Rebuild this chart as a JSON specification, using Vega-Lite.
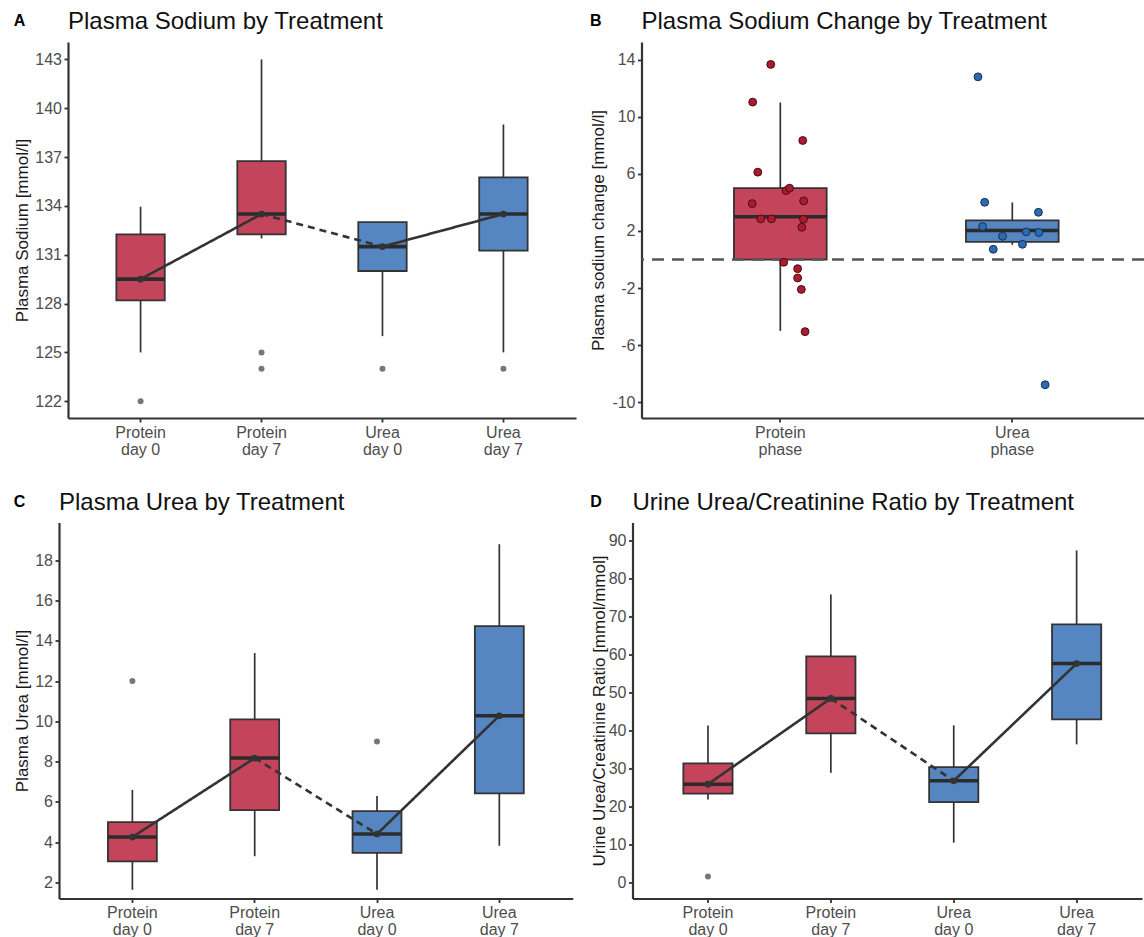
{
  "$schema": "https://vega.github.io/schema/vega-lite/v6.json",
  "padding": {"left": 13, "top": 10, "right": 0, "bottom": 0},
  "background": "white",
  "config": {
    "font": "Liberation Sans",
    "view": {"stroke": null},
    "axis": {"grid": false, "domainColor": "#333333", "domainWidth": 2.2, "tickColor": "#333333", "tickWidth": 1.8, "tickSize": 4, "labelColor": "#4d4d4d", "labelFontSize": 16, "labelFont": "Liberation Sans", "titleFont": "Liberation Sans", "titleFontSize": 17, "titleFontWeight": "normal", "titleColor": "#1a1a1a", "labelPadding": 2.5, "titlePadding": 3, "labelOverlap": false},
    "title": {"font": "Liberation Sans", "fontSize": 24, "fontWeight": "normal", "color": "#111111", "anchor": "start", "frame": "group", "offset": 8}
  },
  "datasets": {
    "boxA": [
      {"group": "Protein day 0", "phase": "Protein", "lo": 125.0, "q1": 128.2, "med": 129.5, "q3": 132.25, "hi": 133.95},
      {"group": "Protein day 7", "phase": "Protein", "lo": 132.0, "q1": 132.25, "med": 133.5, "q3": 136.75, "hi": 143.0},
      {"group": "Urea day 0", "phase": "Urea", "lo": 126.0, "q1": 130.0, "med": 131.5, "q3": 133.0, "hi": 133.0},
      {"group": "Urea day 7", "phase": "Urea", "lo": 125.0, "q1": 131.25, "med": 133.5, "q3": 135.75, "hi": 139.0}
    ],
    "outA": [
      {"group": "Protein day 0", "value": 122},
      {"group": "Protein day 7", "value": 125},
      {"group": "Protein day 7", "value": 124},
      {"group": "Urea day 0", "value": 124},
      {"group": "Urea day 7", "value": 124}
    ],
    "lineA": [
      {"group": "Protein day 0", "med": 129.5, "seg": "1", "link": "within"},
      {"group": "Protein day 7", "med": 133.5, "seg": "1", "link": "within"},
      {"group": "Protein day 7", "med": 133.5, "seg": "2", "link": "between"},
      {"group": "Urea day 0", "med": 131.5, "seg": "2", "link": "between"},
      {"group": "Urea day 0", "med": 131.5, "seg": "3", "link": "within"},
      {"group": "Urea day 7", "med": 133.5, "seg": "3", "link": "within"}
    ],
    "boxB": [
      {"group": "Protein phase", "phase": "Protein", "lo": -5.0, "q1": 0.0, "med": 3.0, "q3": 5.0, "hi": 11.0},
      {"group": "Urea phase", "phase": "Urea", "lo": 1.03, "q1": 1.24, "med": 2.03, "q3": 2.75, "hi": 4.0}
    ],
    "ptsB": [
      {"group": "Protein phase", "phase": "Protein", "value": 13.67, "jitter": -0.041},
      {"group": "Protein phase", "phase": "Protein", "value": 11.03, "jitter": -0.119},
      {"group": "Protein phase", "phase": "Protein", "value": 8.34, "jitter": 0.097},
      {"group": "Protein phase", "phase": "Protein", "value": 6.12, "jitter": -0.097},
      {"group": "Protein phase", "phase": "Protein", "value": 4.83, "jitter": 0.025},
      {"group": "Protein phase", "phase": "Protein", "value": 5.0, "jitter": 0.04},
      {"group": "Protein phase", "phase": "Protein", "value": 3.92, "jitter": -0.121},
      {"group": "Protein phase", "phase": "Protein", "value": 4.11, "jitter": 0.101},
      {"group": "Protein phase", "phase": "Protein", "value": 2.85, "jitter": -0.084},
      {"group": "Protein phase", "phase": "Protein", "value": 2.85, "jitter": -0.038},
      {"group": "Protein phase", "phase": "Protein", "value": 2.82, "jitter": 0.1},
      {"group": "Protein phase", "phase": "Protein", "value": 2.26, "jitter": 0.093},
      {"group": "Protein phase", "phase": "Protein", "value": -0.19, "jitter": 0.015},
      {"group": "Protein phase", "phase": "Protein", "value": -0.64, "jitter": 0.075},
      {"group": "Protein phase", "phase": "Protein", "value": -1.29, "jitter": 0.075},
      {"group": "Protein phase", "phase": "Protein", "value": -2.09, "jitter": 0.091},
      {"group": "Protein phase", "phase": "Protein", "value": -5.05, "jitter": 0.107},
      {"group": "Urea phase", "phase": "Urea", "value": 12.8, "jitter": -0.148},
      {"group": "Urea phase", "phase": "Urea", "value": 4.01, "jitter": -0.119},
      {"group": "Urea phase", "phase": "Urea", "value": 3.31, "jitter": 0.113},
      {"group": "Urea phase", "phase": "Urea", "value": 2.31, "jitter": -0.128},
      {"group": "Urea phase", "phase": "Urea", "value": 1.94, "jitter": 0.06},
      {"group": "Urea phase", "phase": "Urea", "value": 1.9, "jitter": 0.115},
      {"group": "Urea phase", "phase": "Urea", "value": 1.63, "jitter": -0.042},
      {"group": "Urea phase", "phase": "Urea", "value": 1.07, "jitter": 0.044},
      {"group": "Urea phase", "phase": "Urea", "value": 0.72, "jitter": -0.082},
      {"group": "Urea phase", "phase": "Urea", "value": -8.77, "jitter": 0.142}
    ],
    "boxC": [
      {"group": "Protein day 0", "phase": "Protein", "lo": 1.64, "q1": 3.05, "med": 4.26, "q3": 5.0, "hi": 6.6},
      {"group": "Protein day 7", "phase": "Protein", "lo": 3.31, "q1": 5.6, "med": 8.18, "q3": 10.1, "hi": 13.39},
      {"group": "Urea day 0", "phase": "Urea", "lo": 1.64, "q1": 3.47, "med": 4.41, "q3": 5.55, "hi": 6.3},
      {"group": "Urea day 7", "phase": "Urea", "lo": 3.83, "q1": 6.43, "med": 10.28, "q3": 14.73, "hi": 18.79}
    ],
    "outC": [
      {"group": "Protein day 0", "value": 12.0},
      {"group": "Urea day 0", "value": 9.0}
    ],
    "lineC": [
      {"group": "Protein day 0", "med": 4.26, "seg": "1", "link": "within"},
      {"group": "Protein day 7", "med": 8.18, "seg": "1", "link": "within"},
      {"group": "Protein day 7", "med": 8.18, "seg": "2", "link": "between"},
      {"group": "Urea day 0", "med": 4.41, "seg": "2", "link": "between"},
      {"group": "Urea day 0", "med": 4.41, "seg": "3", "link": "within"},
      {"group": "Urea day 7", "med": 10.28, "seg": "3", "link": "within"}
    ],
    "boxD": [
      {"group": "Protein day 0", "phase": "Protein", "lo": 21.9, "q1": 23.4, "med": 25.9, "q3": 31.4, "hi": 41.4},
      {"group": "Protein day 7", "phase": "Protein", "lo": 28.9, "q1": 39.3, "med": 48.5, "q3": 59.6, "hi": 75.9},
      {"group": "Urea day 0", "phase": "Urea", "lo": 10.5, "q1": 21.2, "med": 26.8, "q3": 30.4, "hi": 41.4},
      {"group": "Urea day 7", "phase": "Urea", "lo": 36.4, "q1": 43.0, "med": 57.7, "q3": 68.0, "hi": 87.5}
    ],
    "outD": [
      {"group": "Protein day 0", "value": 1.6}
    ],
    "lineD": [
      {"group": "Protein day 0", "med": 25.9, "seg": "1", "link": "within"},
      {"group": "Protein day 7", "med": 48.5, "seg": "1", "link": "within"},
      {"group": "Protein day 7", "med": 48.5, "seg": "2", "link": "between"},
      {"group": "Urea day 0", "med": 26.8, "seg": "2", "link": "between"},
      {"group": "Urea day 0", "med": 26.8, "seg": "3", "link": "within"},
      {"group": "Urea day 7", "med": 57.7, "seg": "3", "link": "within"}
    ]
  },
  "columns": 2,
  "align": "none",
  "spacing": {"row": 33.5, "column": 7.5},
  "concat": [
    {
      "title": {"text": "A", "fontSize": 16, "fontWeight": "bold", "frame": "bounds", "offset": -19, "color": "#000000"},
      "vconcat": [
        {
          "title": {"text": "Plasma Sodium by Treatment"},
          "width": 508, "height": 376,
          "layer": [
            {"data": {"name": "boxA"}, "mark": {"type": "rule", "color": "#333333", "strokeWidth": 1.7},
             "encoding": {
               "x": {"field": "group", "type": "nominal", "scale": {"type": "band", "domain": ["Protein day 0", "Protein day 7", "Urea day 0", "Urea day 7"], "paddingInner": 0.6, "paddingOuter": 0.4}, "axis": {"title": null, "labelAngle": 0, "bandPosition": 0.5, "labelPadding": 2, "labelLineHeight": 17, "labelExpr": "[slice(datum.label, 0, indexof(datum.label, ' ')), slice(datum.label, indexof(datum.label, ' ') + 1)]"}},
               "y": {"field": "lo", "type": "quantitative", "scale": {"domain": [120.97, 144.07], "nice": false, "zero": false}, "axis": {"title": "Plasma Sodium [mmol/l]", "values": [122, 125, 128, 131, 134, 137, 140, 143], "labelExpr": "'' + datum.value"}},
               "y2": {"field": "hi"}}},
            {"data": {"name": "boxA"}, "mark": {"type": "bar", "stroke": "#333333", "strokeWidth": 1.8, "width": 48.4},
             "encoding": {
               "x": {"field": "group", "type": "nominal"},
               "y": {"field": "q1", "type": "quantitative"}, "y2": {"field": "q3"},
               "color": {"field": "phase", "type": "nominal", "scale": {"domain": ["Protein", "Urea"], "range": ["#C4455B", "#5686C2"]}, "legend": null}}},
            {"data": {"name": "boxA"}, "mark": {"type": "tick", "color": "#2b2b2b", "thickness": 3.6, "size": 48.4, "opacity": 1},
             "encoding": {"x": {"field": "group", "type": "nominal"}, "y": {"field": "med", "type": "quantitative"}}},
            {"data": {"name": "outA"}, "mark": {"type": "point", "filled": true, "color": "#777777", "size": 36, "opacity": 1},
             "encoding": {"x": {"field": "group", "type": "nominal"}, "y": {"field": "value", "type": "quantitative"}}},
            {"data": {"name": "lineA"}, "mark": {"type": "line", "color": "#333333", "strokeWidth": 2.6},
             "encoding": {"x": {"field": "group", "type": "nominal"}, "y": {"field": "med", "type": "quantitative"}, "detail": {"field": "seg", "type": "nominal"},
               "strokeDash": {"field": "link", "type": "nominal", "scale": {"domain": ["within", "between"], "range": [[1, 0], [7, 5]]}, "legend": null}}},
            {"data": {"name": "boxA"}, "mark": {"type": "point", "filled": true, "color": "#333333", "size": 45, "opacity": 1},
             "encoding": {"x": {"field": "group", "type": "nominal"}, "y": {"field": "med", "type": "quantitative"}}}
          ]
        }
      ]
    },
    {
      "title": {"text": "B", "fontSize": 16, "fontWeight": "bold", "frame": "bounds", "offset": -19, "color": "#000000"},
      "vconcat": [
        {
          "title": {"text": "Plasma Sodium Change by Treatment"},
          "width": 502.5, "height": 376,
          "layer": [
            {"data": {"name": "boxB"}, "mark": {"type": "rule", "color": "#333333", "strokeWidth": 1.7},
             "encoding": {
               "x": {"field": "group", "type": "nominal", "scale": {"type": "band", "domain": ["Protein phase", "Urea phase"], "paddingInner": 0.6, "paddingOuter": 0.383, "align": 0.52}, "axis": {"title": null, "labelAngle": 0, "bandPosition": 0.5, "labelPadding": 2, "labelLineHeight": 17, "labelExpr": "[slice(datum.label, 0, indexof(datum.label, ' ')), slice(datum.label, indexof(datum.label, ' ') + 1)]"}},
               "y": {"field": "lo", "type": "quantitative", "scale": {"domain": [-11.1, 15.24], "nice": false, "zero": false}, "axis": {"title": "Plasma sodium change [mmol/l]", "titlePadding": 4, "values": [-10, -8, -6, -4, -2, 0, 2, 4, 6, 8, 10, 12, 14], "labelExpr": "'' + datum.value"}},
               "y2": {"field": "hi"}}},
            {"data": {"name": "boxB"}, "mark": {"type": "bar", "stroke": "#333333", "strokeWidth": 1.8, "width": 92.7},
             "encoding": {
               "x": {"field": "group", "type": "nominal"},
               "y": {"field": "q1", "type": "quantitative"}, "y2": {"field": "q3"},
               "color": {"field": "phase", "type": "nominal", "scale": {"domain": ["Protein", "Urea"], "range": ["#C4455B", "#5686C2"]}, "legend": null}}},
            {"data": {"name": "boxB"}, "mark": {"type": "tick", "color": "#2b2b2b", "thickness": 3.6, "size": 92.7, "opacity": 1},
             "encoding": {"x": {"field": "group", "type": "nominal"}, "y": {"field": "med", "type": "quantitative"}}},
            {"data": {"values": [{"ref": "zero"}]}, "mark": {"type": "rule", "color": "#555555", "strokeWidth": 2.4, "strokeDash": [12, 8]},
             "encoding": {"y": {"datum": 0, "type": "quantitative"}}},
            {"data": {"name": "ptsB"}, "mark": {"type": "point", "filled": true, "size": 62, "opacity": 1, "strokeWidth": 1},
             "encoding": {
               "x": {"field": "group", "type": "nominal"},
               "xOffset": {"field": "jitter", "type": "quantitative", "scale": {"domain": [-0.5, 0.5], "range": [-69.5, 162.2]}},
               "y": {"field": "value", "type": "quantitative"},
               "fill": {"field": "phase", "type": "nominal", "scale": {"domain": ["Protein", "Urea"], "range": ["#A81C30", "#2E6AAF"]}, "legend": null},
               "stroke": {"field": "phase", "type": "nominal", "scale": {"domain": ["Protein", "Urea"], "range": ["#4d0b14", "#12305a"]}, "legend": null}}}
          ]
        }
      ]
    },
    {
      "title": {"text": "C", "fontSize": 16, "fontWeight": "bold", "frame": "bounds", "offset": -19, "color": "#000000"},
      "vconcat": [
        {
          "title": {"text": "Plasma Urea by Treatment", "dx": -9},
          "width": 504.7, "height": 376,
          "layer": [
            {"data": {"name": "boxC"}, "mark": {"type": "rule", "color": "#333333", "strokeWidth": 1.7},
             "encoding": {
               "x": {"field": "group", "type": "nominal", "scale": {"type": "band", "domain": ["Protein day 0", "Protein day 7", "Urea day 0", "Urea day 7"], "paddingInner": 0.6, "paddingOuter": 0.4, "range": [-9, 504.7]}, "axis": {"title": null, "labelAngle": 0, "bandPosition": 0.5, "labelPadding": 2, "labelLineHeight": 17, "labelExpr": "[slice(datum.label, 0, indexof(datum.label, ' ')), slice(datum.label, indexof(datum.label, ' ') + 1)]"}},
               "y": {"field": "lo", "type": "quantitative", "scale": {"domain": [1.21, 19.87], "nice": false, "zero": false}, "axis": {"title": "Plasma Urea [mmol/l]", "offset": 9, "values": [2, 4, 6, 8, 10, 12, 14, 16, 18], "labelExpr": "'' + datum.value"}},
               "y2": {"field": "hi"}}},
            {"data": {"name": "boxC"}, "mark": {"type": "bar", "stroke": "#333333", "strokeWidth": 1.8, "width": 48.9},
             "encoding": {
               "x": {"field": "group", "type": "nominal"},
               "y": {"field": "q1", "type": "quantitative"}, "y2": {"field": "q3"},
               "color": {"field": "phase", "type": "nominal", "scale": {"domain": ["Protein", "Urea"], "range": ["#C4455B", "#5686C2"]}, "legend": null}}},
            {"data": {"name": "boxC"}, "mark": {"type": "tick", "color": "#2b2b2b", "thickness": 3.6, "size": 48.9, "opacity": 1},
             "encoding": {"x": {"field": "group", "type": "nominal"}, "y": {"field": "med", "type": "quantitative"}}},
            {"data": {"name": "outC"}, "mark": {"type": "point", "filled": true, "color": "#777777", "size": 36, "opacity": 1},
             "encoding": {"x": {"field": "group", "type": "nominal"}, "y": {"field": "value", "type": "quantitative"}}},
            {"data": {"name": "lineC"}, "mark": {"type": "line", "color": "#333333", "strokeWidth": 2.6},
             "encoding": {"x": {"field": "group", "type": "nominal"}, "y": {"field": "med", "type": "quantitative"}, "detail": {"field": "seg", "type": "nominal"},
               "strokeDash": {"field": "link", "type": "nominal", "scale": {"domain": ["within", "between"], "range": [[1, 0], [7, 5]]}, "legend": null}}},
            {"data": {"name": "boxC"}, "mark": {"type": "point", "filled": true, "color": "#333333", "size": 45, "opacity": 1},
             "encoding": {"x": {"field": "group", "type": "nominal"}, "y": {"field": "med", "type": "quantitative"}}}
          ]
        }
      ]
    },
    {
      "title": {"text": "D", "fontSize": 16, "fontWeight": "bold", "frame": "bounds", "offset": -19, "color": "#000000"},
      "vconcat": [
        {
          "title": {"text": "Urine Urea/Creatinine Ratio by Treatment"},
          "width": 509.5, "height": 376,
          "layer": [
            {"data": {"name": "boxD"}, "mark": {"type": "rule", "color": "#333333", "strokeWidth": 1.7},
             "encoding": {
               "x": {"field": "group", "type": "nominal", "scale": {"type": "band", "domain": ["Protein day 0", "Protein day 7", "Urea day 0", "Urea day 7"], "paddingInner": 0.6, "paddingOuter": 0.373, "align": 0.555}, "axis": {"title": null, "labelAngle": 0, "bandPosition": 0.5, "labelPadding": 2, "labelLineHeight": 17, "labelExpr": "[slice(datum.label, 0, indexof(datum.label, ' ')), slice(datum.label, indexof(datum.label, ' ') + 1)]"}},
               "y": {"field": "lo", "type": "quantitative", "scale": {"domain": [-4.21, 94.85], "nice": false, "zero": false}, "axis": {"title": "Urine Urea/Creatinine Ratio [mmol/mmol]", "titlePadding": 0, "values": [0, 10, 20, 30, 40, 50, 60, 70, 80, 90], "labelExpr": "'' + datum.value"}},
               "y2": {"field": "hi"}}},
            {"data": {"name": "boxD"}, "mark": {"type": "bar", "stroke": "#333333", "strokeWidth": 1.8, "width": 49.2},
             "encoding": {
               "x": {"field": "group", "type": "nominal"},
               "y": {"field": "q1", "type": "quantitative"}, "y2": {"field": "q3"},
               "color": {"field": "phase", "type": "nominal", "scale": {"domain": ["Protein", "Urea"], "range": ["#C4455B", "#5686C2"]}, "legend": null}}},
            {"data": {"name": "boxD"}, "mark": {"type": "tick", "color": "#2b2b2b", "thickness": 3.6, "size": 49.2, "opacity": 1},
             "encoding": {"x": {"field": "group", "type": "nominal"}, "y": {"field": "med", "type": "quantitative"}}},
            {"data": {"name": "outD"}, "mark": {"type": "point", "filled": true, "color": "#777777", "size": 36, "opacity": 1},
             "encoding": {"x": {"field": "group", "type": "nominal"}, "y": {"field": "value", "type": "quantitative"}}},
            {"data": {"name": "lineD"}, "mark": {"type": "line", "color": "#333333", "strokeWidth": 2.6},
             "encoding": {"x": {"field": "group", "type": "nominal"}, "y": {"field": "med", "type": "quantitative"}, "detail": {"field": "seg", "type": "nominal"},
               "strokeDash": {"field": "link", "type": "nominal", "scale": {"domain": ["within", "between"], "range": [[1, 0], [7, 5]]}, "legend": null}}},
            {"data": {"name": "boxD"}, "mark": {"type": "point", "filled": true, "color": "#333333", "size": 45, "opacity": 1},
             "encoding": {"x": {"field": "group", "type": "nominal"}, "y": {"field": "med", "type": "quantitative"}}}
          ]
        }
      ]
    }
  ]
}
